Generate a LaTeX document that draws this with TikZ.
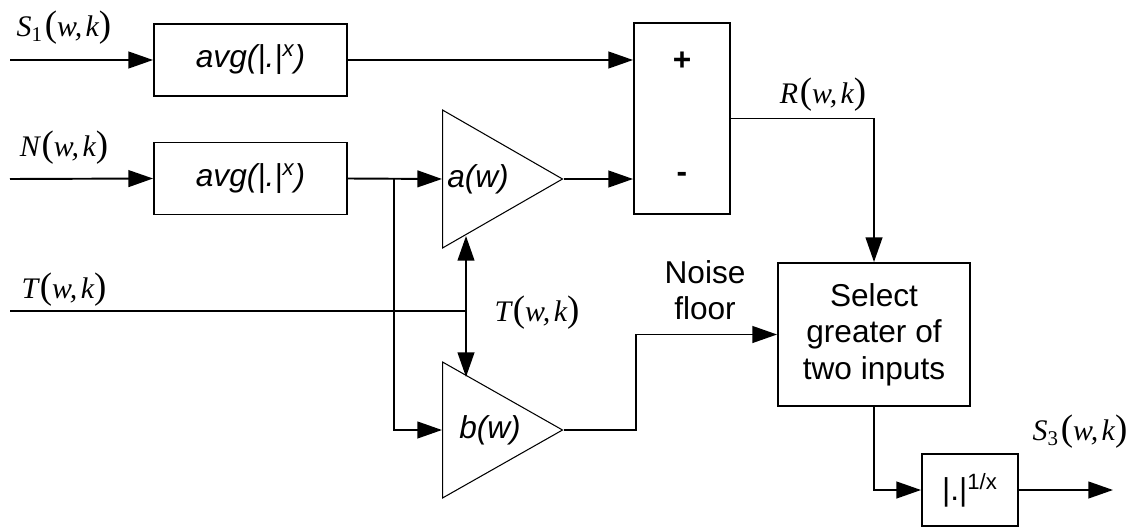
\documentclass[tikz,border=0pt]{standalone}
\usepackage{fontspec}
\setmainfont{Liberation Sans}
\newfontfamily\tms{Liberation Serif}
\usepackage{tikz}
\usetikzlibrary{positioning,arrows.meta,shapes.geometric}

\newcommand\parenfont{\fontsize{21}{21}\selectfont\upshape}
\newcommand\wkarg{\kern1pt{\parenfont(}\textit{w},\kern2pt\textit{k}{\parenfont)}}

\begin{document}
\begin{tikzpicture}[x=0.02cm, y=-0.02cm, >={Triangle[length=14pt,width=9.5pt]},
  wire/.style={line width=1.1pt},
  block/.style={draw, line width=1.1pt, inner sep=0pt, font=\fontsize{18}{20.7}\selectfont},
  amp/.style={draw, line width=0.6pt, isosceles triangle, isosceles triangle stretches,
              inner sep=0pt, minimum width=2.76cm, minimum height=2.4cm, anchor=lower side},
  sig/.style={font=\fontsize{17}{20}\selectfont\tms\itshape},
  txt/.style={font=\fontsize{18}{20.7}\selectfont, align=center}]
  \useasboundingbox (0,0) rectangle (1138,527);
  % blocks
  \node[block, minimum width=3.86cm, minimum height=1.44cm] (avgs) at (250.5,60) {\textit{avg(|.|\textsuperscript{x})}};
  \node[block, minimum width=3.86cm, minimum height=1.44cm] (avgn) at (250.5,178.5) {\textit{avg(|.|\textsuperscript{x})}};
  \node[block, minimum width=1.92cm, minimum height=3.82cm] (sum) at (682,118.5) {};
  \node[block, minimum width=3.84cm, minimum height=2.86cm, align=center] (select) at (874,334.5)
        {Select\\greater of\\two inputs};
  \node[block, minimum width=1.92cm, minimum height=1.44cm] (pow) at (970,490) {|.|\textsuperscript{1/x}};
  \node[amp] (ampa) at (442,179) {};
  \node[amp, minimum width=2.72cm] (ampb) at (442,430) {};
  % texts inside
  \node[txt, font=\fontsize{18}{20}\selectfont\bfseries] (plus) at (682,61) {+};
  \node[txt, font=\fontsize{18}{20}\selectfont\bfseries] (minus) at (682,177) {-};
  \node[txt] (ga) at (478,179) {\textit{a(w)}};
  \node[txt] (gb) at (490,430) {\textit{b(w)}};
  % signal labels
  \node[sig] (ls1) at (64,28) {S\textsubscript{\upshape 1}\wkarg};
  \node[sig] (ln) at (64,148) {N\wkarg};
  \node[sig] (lt) at (64,290) {T\wkarg};
  \node[sig] (ltm) at (537,313) {T\wkarg};
  \node[sig] (lr) at (823,95) {R\wkarg};
  \node[sig] (ls3) at (1080,432) {S\textsubscript{\upshape 3}\wkarg};
  \node[txt] (lnoise) at (705,290) {Noise\\floor};
  % free ends
  \coordinate (s1in) at (10,60);
  \coordinate (nin) at (10,179);
  \coordinate (tin) at (10,311);
  \coordinate (tjoin) at (466,311);
  \coordinate (ttop) at (466,236);
  \coordinate (tbot) at (466,377);
  \coordinate (nsplit) at (394,179);
  \coordinate (out) at (1113,490);
  % connectors
  \draw[wire,->] (s1in) -- (avgs.west);
  \draw[wire,->] (nin) -- (avgn.west);
  \draw[wire,->] (avgs.east) -- (avgs.east -| sum.west);
  \draw[wire,->] (avgn.east) -- (ampa.lower side);
  \draw[wire,->] (nsplit) |- (ampb.lower side);
  \draw[wire,->] (ampa.apex) -- (ampa.apex -| sum.west);
  \draw[wire,->] (sum.east) -| (select.north);
  \draw[wire,->] (ampb.apex) -- ++(72,0) |- (select.west);
  \draw[wire] (tin) -- (tjoin);
  \draw[wire,<->] (ttop) -- (tbot);
  \draw[wire,->] (select.south) |- (pow.west);
  \draw[wire,->] (pow.east) -- (out);
\end{tikzpicture}
\end{document}
